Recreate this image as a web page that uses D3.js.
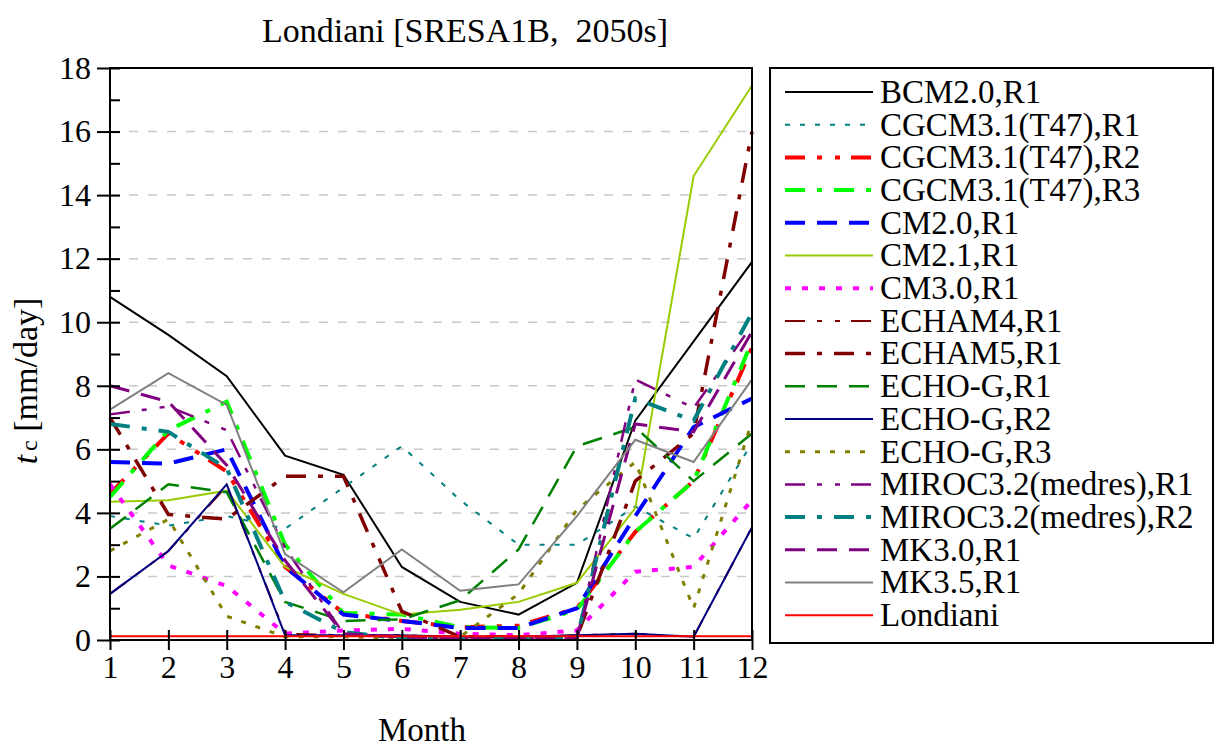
<!DOCTYPE html>
<html>
<head>
<meta charset="utf-8">
<script src="https://cdn.jsdelivr.net/npm/d3@7"></script>
<style>
  body { margin: 0; background: #fff; }
  text { font-family: "Liberation Serif", "Times New Roman", serif; fill: #000; }
</style>
</head>
<body>
<svg id="chart" width="1216" height="750"></svg>
<script>
// data (mm/day, months 1..12)
var months = [1, 2, 3, 4, 5, 6, 7, 8, 9, 10, 11, 12];
var yTicks = [0, 2, 4, 6, 8, 10, 12, 14, 16, 18];
var yMinor = [1, 3, 5, 7, 9, 11, 13, 15, 17];

var bcm20_r1      = [10.8, 9.6, 8.3, 5.8, 5.2, 2.3, 1.2, 0.8, 1.8, 6.9, 9.4, 11.9];
var cgcm31_r1     = [3.9, 3.6, 3.9, 3.5, 4.8, 6.1, 4.4, 3.0, 3.0, 4.2, 3.2, 6.2];
var cgcm31_r2     = [4.6, 6.5, 5.3, 2.3, 0.85, 0.6, 0.4, 0.45, 1.0, 3.4, 5.0, 9.2];
var cgcm31_r3     = [4.5, 6.6, 7.5, 3.0, 0.85, 0.8, 0.4, 0.38, 0.95, 3.4, 5.0, 9.4];
var cm20_r1       = [5.6, 5.55, 6.0, 2.3, 0.8, 0.6, 0.38, 0.38, 1.0, 3.9, 6.7, 7.6];
var cm21_r1       = [4.35, 4.4, 4.7, 2.3, 1.45, 0.8, 0.95, 1.2, 1.8, 4.15, 14.6, 17.45];
var cm30_r1       = [4.9, 2.35, 1.7, 0.2, 0.3, 0.35, 0.2, 0.15, 0.3, 2.15, 2.3, 4.4];
var echam4_r1     = [1.45, 2.8, 4.85, 0.2, 0.15, 0.15, 0.1, 0.1, 0.15, 0.2, 0.1, 3.55];
var echam5_r1     = [7.0, 3.95, 3.8, 5.15, 5.15, 0.9, 0.1, 0.1, 0.1, 5.0, 6.5, 16.0];
var echog_r1      = [3.5, 4.9, 4.65, 1.2, 0.6, 0.65, 1.25, 2.85, 6.1, 6.7, 5.0, 6.5];
var echog_r2      = [1.45, 2.8, 4.9, 0.15, 0.15, 0.15, 0.1, 0.1, 0.15, 0.2, 0.1, 3.55];
var echog_r3      = [2.8, 3.8, 0.75, 0.1, 0.1, 0.05, 0.1, 1.45, 4.1, 5.6, 1.0, 6.9];
var miroc_r1      = [7.1, 7.35, 6.6, 2.9, 0.2, 0.1, 0.05, 0.05, 0.05, 8.2, 7.3, 9.9];
var miroc_r2      = [6.8, 6.55, 5.4, 1.2, 0.25, 0.05, 0.05, 0.05, 0.05, 7.6, 6.9, 10.3];
var mk30_r1       = [8.0, 7.5, 5.5, 2.5, 0.2, 0.1, 0.05, 0.05, 0.05, 6.8, 6.55, 9.7];
var mk35_r1       = [7.25, 8.4, 7.4, 2.7, 1.5, 2.85, 1.55, 1.75, 3.9, 6.3, 5.6, 8.2];
var londiani      = [0.12, 0.12, 0.12, 0.12, 0.12, 0.12, 0.12, 0.12, 0.12, 0.12, 0.12, 0.12];

var seriesNames = ["BCM2.0,R1", "CGCM3.1(T47),R1", "CGCM3.1(T47),R2", "CGCM3.1(T47),R3",
  "CM2.0,R1", "CM2.1,R1", "CM3.0,R1", "ECHAM4,R1", "ECHAM5,R1", "ECHO-G,R1", "ECHO-G,R2",
  "ECHO-G,R3", "MIROC3.2(medres),R1", "MIROC3.2(medres),R2", "MK3.0,R1", "MK3.5,R1", "Londiani"];
var seriesValues = [bcm20_r1, cgcm31_r1, cgcm31_r2, cgcm31_r3, cm20_r1, cm21_r1, cm30_r1,
  echam4_r1, echam5_r1, echog_r1, echog_r2, echog_r3, miroc_r1, miroc_r2, mk30_r1, mk35_r1, londiani];

// line styles, same order as the names
var dashDot2 = "20,12,5,13,5,11", dashDot = "20,12,5,12", dashed = "20,12";
var styles = [
  {color: "#000000", width: 2,   dash: null},
  {color: "#008080", width: 2,   dash: "5,10"},
  {color: "#ff0000", width: 4,   dash: dashDot2},
  {color: "#00ff00", width: 4,   dash: dashDot},
  {color: "#0000ff", width: 4,   dash: dashed},
  {color: "#99cc00", width: 2,   dash: null},
  {color: "#ff00ff", width: 4,   dash: "6,11"},
  {color: "#800000", width: 2,   dash: dashDot2},
  {color: "#800000", width: 3.5, dash: dashDot},
  {color: "#008000", width: 2.5, dash: dashed},
  {color: "#000080", width: 2,   dash: null},
  {color: "#808000", width: 3,   dash: "5,10"},
  {color: "#800080", width: 2.5, dash: dashDot2},
  {color: "#008080", width: 4,   dash: dashDot},
  {color: "#800080", width: 3,   dash: dashed},
  {color: "#808080", width: 2,   dash: null},
  {color: "#ff0000", width: 2,   dash: null}
];

var svg = d3.select("#chart");
var plotLeft = 110, plotRight = 752, plotTop = 68, plotBottom = 640;

var x = d3.scaleLinear().domain([1, 12]).range([plotLeft, plotRight]);
var y = d3.scaleLinear().domain([0, 18]).range([plotBottom, plotTop]);

// grid
svg.append("g")
  .selectAll("line")
  .data(yTicks.filter(function(d) { return d > 0 && d < 18; }))
  .enter().append("line")
  .attr("x1", plotLeft).attr("x2", plotRight)
  .attr("y1", function(d) { return y(d); })
  .attr("y2", function(d) { return y(d); })
  .attr("stroke", "#c8c8c8")
  .attr("stroke-width", 1.5)
  .attr("stroke-dasharray", "9,10");

// series
var line = d3.line()
  .x(function(d, i) { return x(months[i]); })
  .y(function(d) { return y(d); });

svg.append("g")
  .selectAll("path")
  .data(seriesValues)
  .enter().append("path")
  .attr("d", line)
  .attr("fill", "none")
  .attr("stroke", function(d, i) { return styles[i].color; })
  .attr("stroke-width", function(d, i) { return styles[i].width; })
  .attr("stroke-dasharray", function(d, i) { return styles[i].dash; });

// frame
svg.append("rect")
  .attr("x", plotLeft).attr("y", plotTop)
  .attr("width", plotRight - plotLeft).attr("height", plotBottom - plotTop)
  .attr("fill", "none")
  .attr("stroke", "#000")
  .attr("stroke-width", 2);

// axes
var yAxis = svg.append("g")
  .attr("transform", "translate(" + plotLeft + ",0)")
  .call(d3.axisLeft(y).tickValues(yTicks).tickSize(13).tickPadding(6));
yAxis.selectAll("text").style("font-size", "32px");

var yInner = svg.append("g")
  .attr("transform", "translate(" + plotLeft + ",0)")
  .call(d3.axisRight(y).tickValues(yTicks.concat(yMinor)).tickSize(10).tickFormat(""));

var xAxis = svg.append("g")
  .attr("transform", "translate(0," + plotBottom + ")")
  .call(d3.axisBottom(x).tickValues(months).tickSize(10).tickPadding(5).tickFormat(d3.format("d")));
xAxis.selectAll("text").style("font-size", "32px");

var xInner = svg.append("g")
  .attr("transform", "translate(0," + plotBottom + ")")
  .call(d3.axisTop(x).tickValues(months).tickSize(10).tickFormat(""));

[yAxis, yInner, xAxis, xInner].forEach(function(g) {
  g.select(".domain").remove();
  g.selectAll("line").attr("stroke", "#000").attr("stroke-width", 2);
});

// titles
svg.append("text")
  .attr("x", 465).attr("y", 42)
  .attr("text-anchor", "middle")
  .style("font-size", "34px")
  .style("white-space", "pre")
  .text("Londiani [SRESA1B,  2050s]");

svg.append("text")
  .attr("x", 422).attr("y", 741)
  .attr("text-anchor", "middle")
  .style("font-size", "33px")
  .text("Month");

var yTitle = svg.append("text")
  .attr("transform", "translate(37,381) rotate(-90)")
  .attr("text-anchor", "middle")
  .style("font-size", "34px");
yTitle.append("tspan").style("font-style", "italic").text("t");
yTitle.append("tspan").style("font-size", "24px").attr("dx", 4).text("c");
yTitle.append("tspan").text(" [mm/day]");

// legend
var legend = svg.append("g");
legend.append("rect")
  .attr("x", 770).attr("y", 68)
  .attr("width", 443).attr("height", 575)
  .attr("fill", "#fff")
  .attr("stroke", "#000")
  .attr("stroke-width", 2);

var rows = legend.selectAll(".row")
  .data(seriesNames)
  .enter().append("g")
  .attr("class", "row")
  .attr("transform", function(d, i) { return "translate(0," + (92 + i * 32.7) + ")"; });

rows.append("line")
  .attr("x1", 785).attr("x2", 873)
  .attr("stroke", function(d, i) { return styles[i].color; })
  .attr("stroke-width", function(d, i) { return styles[i].width; })
  .attr("stroke-dasharray", function(d, i) { return styles[i].dash; });

rows.append("text")
  .attr("x", 880)
  .attr("dy", "0.33em")
  .style("font-size", "33px")
  .text(function(d) { return d; });
</script>
</body>
</html>
